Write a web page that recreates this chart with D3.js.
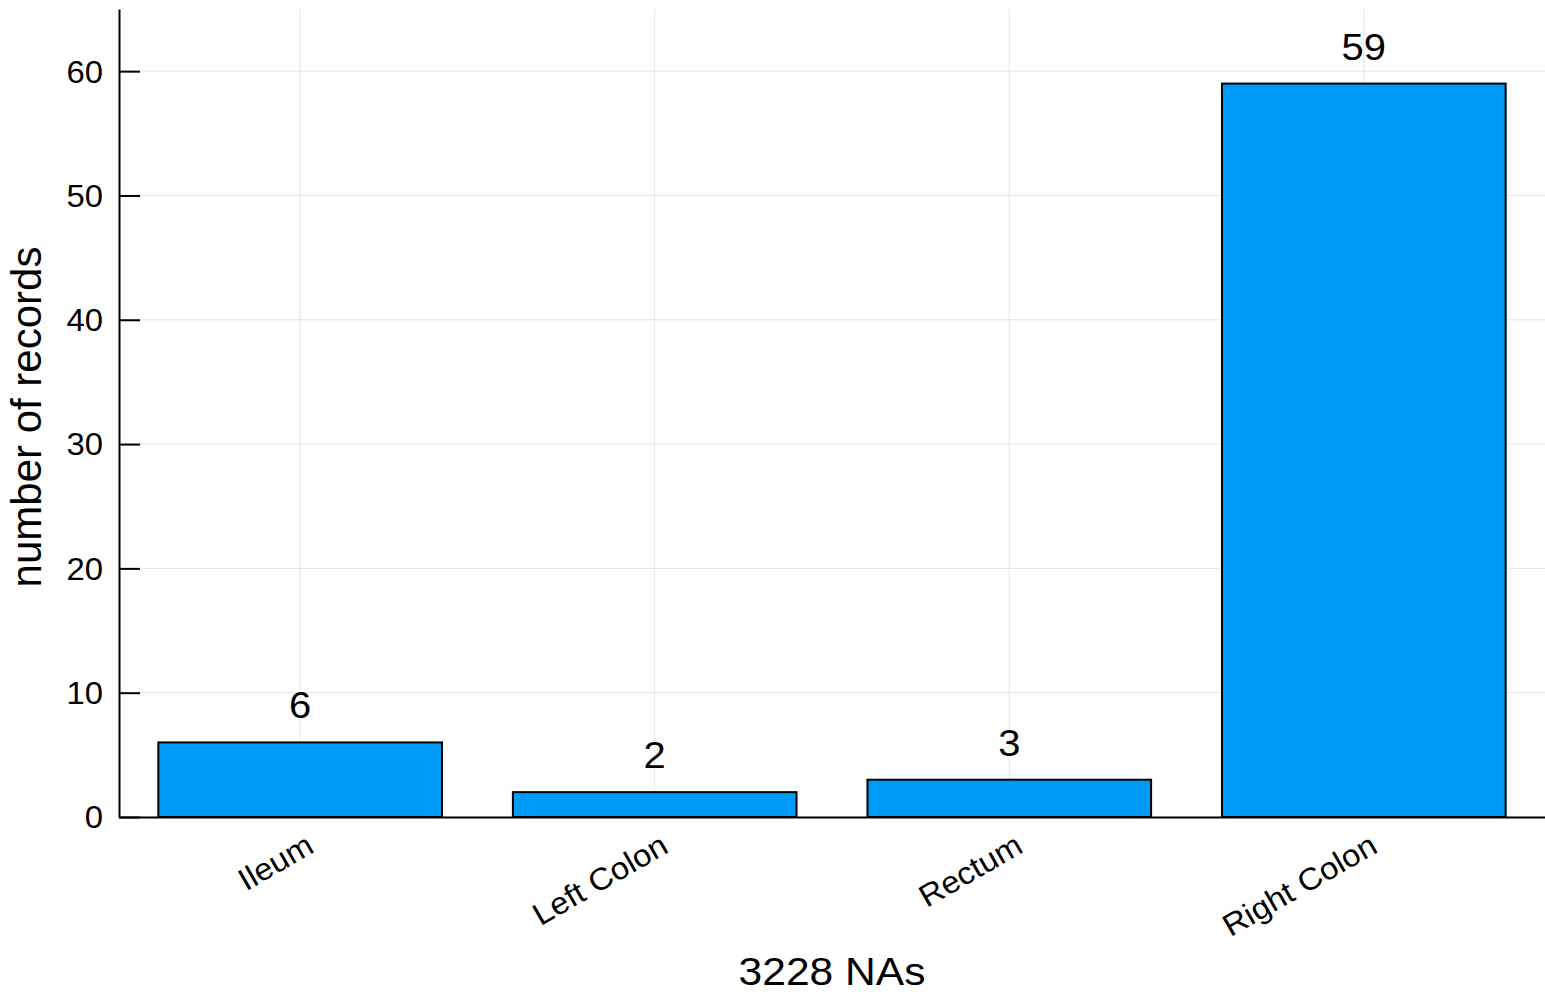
<!DOCTYPE html>
<html>
<head>
<meta charset="utf-8">
<script src="https://cdn.jsdelivr.net/npm/d3@7"></script>
<style>
  html, body { margin: 0; padding: 0; background: #fff; }
  text { font-family: "Liberation Sans", Arial, Helvetica, sans-serif; fill: #000; }
</style>
</head>
<body>
<svg id="chart" width="1545" height="992"></svg>
<script>
const categories = ["Ileum", "Left Colon", "Rectum", "Right Colon"];
const values = [6, 2, 3, 59];
const yTicks = [0, 10, 20, 30, 40, 50, 60];
const xTitle = "3228 NAs";
const yTitle = "number of records";

const W = 1545, H = 992;
const plot = { left: 119, right: 1545, top: 9, bottom: 817 };

const svg = d3.select("#chart");

const x = d3.scaleBand()
  .domain(categories)
  .range([plot.left, plot.right])
  .paddingInner(0.2)
  .paddingOuter(0.111);

const y = d3.scaleLinear()
  .domain([0, 65])
  .range([plot.bottom, plot.top]);

const grid = svg.append("g").attr("stroke", "#000").attr("stroke-opacity", 0.1).attr("stroke-width", 1);
grid.selectAll("line.h").data(yTicks).join("line")
  .attr("class", "h")
  .attr("x1", plot.left).attr("x2", plot.right)
  .attr("y1", d => y(d)).attr("y2", d => y(d));
grid.selectAll("line.v").data(categories).join("line")
  .attr("class", "v")
  .attr("x1", d => x(d) + x.bandwidth() / 2).attr("x2", d => x(d) + x.bandwidth() / 2)
  .attr("y1", plot.top).attr("y2", plot.bottom);

// y axis
const yAxis = d3.axisLeft(y).tickValues(yTicks).tickSizeInner(-21).tickSizeOuter(0).tickFormat(d3.format("d"));
const gy = svg.append("g").attr("transform", `translate(${plot.left},0)`).call(yAxis);
gy.select(".domain").attr("stroke", "#000").attr("stroke-width", 2);
gy.selectAll(".tick line").attr("stroke", "#000").attr("stroke-width", 2);
gy.selectAll(".tick text").remove();
gy.selectAll(".tick").append("text")
  .attr("transform", "translate(-16,0) scale(1.06,1)")
  .attr("text-anchor", "end")
  .attr("dy", "0.35em")
  .style("font-size", "31px")
  .text(d => d);

// bars
svg.append("g").selectAll("rect").data(values).join("rect")
  .attr("x", (d, i) => x(categories[i]))
  .attr("width", x.bandwidth())
  .attr("y", d => y(d))
  .attr("height", d => y(0) - y(d))
  .attr("fill", "#009AF9")
  .attr("stroke", "#000")
  .attr("stroke-width", 2);

// x axis
const xAxis = d3.axisBottom(x).tickSize(0).tickSizeOuter(0);
const gx = svg.append("g").attr("transform", `translate(0,${plot.bottom})`).call(xAxis);
gx.select(".domain").attr("stroke", "#000").attr("stroke-width", 2);
gx.selectAll(".tick text").remove();
gx.selectAll(".tick").append("text")
  .attr("transform", "translate(10,25) rotate(-30) scale(1.06,1)")
  .attr("text-anchor", "end")
  .attr("dy", "0.35em")
  .style("font-size", "31px")
  .text(d => d);

// value labels
svg.append("g").selectAll("text").data(values).join("text")
  .attr("transform", (d, i) => `translate(${x(categories[i]) + x.bandwidth() / 2},${y(d + 3)}) scale(1.08,1)`)
  .attr("text-anchor", "middle")
  .attr("dy", "0.36em")
  .style("font-size", "37px")
  .text(d => d);

// axis titles
svg.append("text")
  .attr("transform", `translate(${(plot.left + plot.right) / 2},985) scale(1.12,1)`)
  .attr("text-anchor", "middle")
  .style("font-size", "38px")
  .text(xTitle);

svg.append("text")
  .attr("transform", `translate(41,417) rotate(-90)`)
  .attr("text-anchor", "middle")
  .style("font-size", "42px")
  .text(yTitle);
</script>
</body>
</html>
